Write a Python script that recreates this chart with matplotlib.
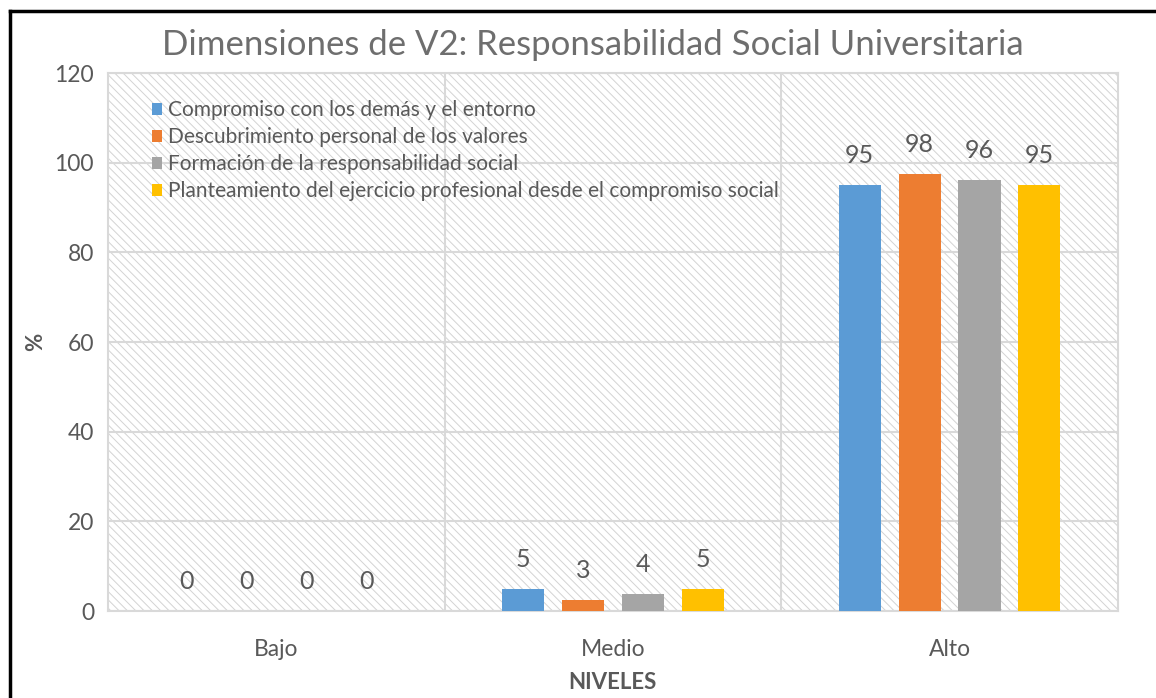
import numpy as np
import matplotlib.pyplot as plt
from matplotlib.lines import Line2D

# Data
niveles = ["Bajo", "Medio", "Alto"]
series = [
    "Compromiso con los demás y el entorno",
    "Descubrimiento personal de los valores",
    "Formación de la responsabilidad social",
    "Planteamiento del ejercicio profesional desde el compromiso social",
]
compromiso = [0, 4.9, 95.1]
descubrimiento = [0, 2.5, 97.5]
formacion = [0, 3.8, 96.2]
planteamiento = [0, 4.9, 95.1]
colores = ["#5B9BD5", "#ED7D31", "#A5A5A5", "#FFC000"]

valores = [compromiso, descubrimiento, formacion, planteamiento]

plt.rcParams["font.family"] = ["Lato", "DejaVu Sans"]
plt.rcParams["hatch.linewidth"] = 0.7
gris = "#595959"

fig = plt.figure(figsize=(11.56, 6.98), dpi=100)
ax = fig.add_axes([0.0934, 0.1246, 0.8736, 0.7708])

# hatched plot area
ax.patch.set_hatch("\\\\\\\\")
ax.patch.set_edgecolor("#d3d3d3")
ax.patch.set_linewidth(0)

x = np.arange(len(niveles))
paso = 0.178
ancho = 0.125
for i, (nombre, vals, c) in enumerate(zip(series, valores, colores)):
    pos = x + (i - 1.5) * paso
    ax.bar(pos, vals, ancho, color=c, label=nombre, zorder=3)
    for px, v in zip(pos, vals):
        ax.annotate(str(int(np.floor(v + 0.5))), (px, v), xytext=(0, 21),
                    textcoords="offset points", ha="center", va="center",
                    fontsize=18, color=gris, zorder=4)

ax.set_xlim(-0.5, 2.5)
ax.set_ylim(0, 120)
ax.set_yticks(range(0, 121, 20))
ax.set_xticks(x)
ax.set_xticklabels(niveles)
ax.set_xticks([0.5, 1.5], minor=True)
ax.tick_params(axis="both", which="both", length=0, labelsize=16.5, colors=gris)
ax.tick_params(axis="x", pad=20)
ax.tick_params(axis="y", pad=10)
ax.grid(axis="y", color="#d9d9d9", linewidth=1.5, zorder=1)
ax.grid(axis="x", which="minor", color="#d9d9d9", linewidth=1.5, zorder=1)
for s in ax.spines.values():
    s.set_color("#d9d9d9")
    s.set_linewidth(1.5)

ax.set_xlabel("NIVELES", fontsize=16, fontweight="bold", color=gris, labelpad=9)
ax.set_ylabel("%", fontsize=16, fontweight="bold", color=gris, labelpad=6)
fig.suptitle("Dimensiones de V2: Responsabilidad Social Universitaria",
             fontsize=25, color="#6e6e6e", x=0.513, y=0.958)

ax.legend(loc="upper left", bbox_to_anchor=(0.035, 0.965), frameon=False,
          fontsize=15, handlelength=0.5, handleheight=0.5, handletextpad=0.3,
          labelspacing=0.34, labelcolor=gris, borderaxespad=0)

# black frame (left and top edges)
fig.add_artist(Line2D([0.0085, 0.0085], [0, 0.984], color="black", linewidth=2.5))
fig.add_artist(Line2D([0.0085, 1.0], [0.984, 0.984], color="black", linewidth=2.5))

fig.savefig("out.png", dpi=100)
